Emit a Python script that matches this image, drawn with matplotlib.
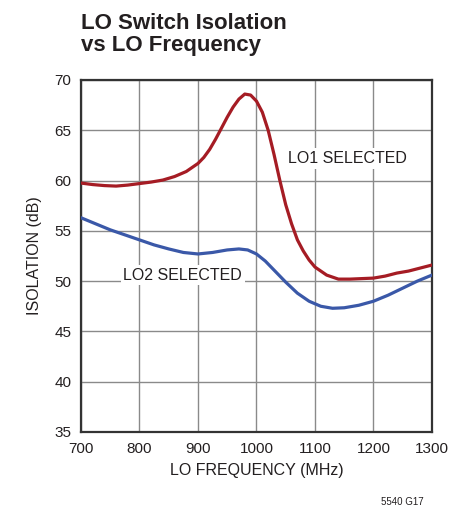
import matplotlib.pyplot as plt

# LO1 selected (red)
f1 = [700, 720, 740, 760, 780, 800, 820, 840, 860, 880, 900, 910, 920, 930, 940, 950, 960,
      970, 980, 990, 1000, 1010, 1020, 1030, 1040, 1050, 1060, 1070, 1080, 1090, 1100,
      1120, 1140, 1160, 1180, 1200, 1220, 1240, 1260, 1280, 1300]
lo1 = [59.75, 59.6, 59.5, 59.45, 59.55, 59.7, 59.85, 60.05, 60.4, 60.9, 61.7, 62.3, 63.1,
       64.1, 65.2, 66.3, 67.3, 68.1, 68.6, 68.5, 67.9, 66.8, 65.0, 62.6, 60.0, 57.6, 55.7,
       54.1, 53.0, 52.1, 51.4, 50.6, 50.2, 50.2, 50.25, 50.3, 50.5, 50.8, 51.0, 51.3, 51.6]

# LO2 selected (blue)
f2 = [700, 725, 750, 775, 800, 825, 850, 875, 900, 925, 950, 970, 985, 1000, 1015, 1030,
      1050, 1070, 1090, 1110, 1130, 1150, 1175, 1200, 1225, 1250, 1275, 1300]
lo2 = [56.3, 55.7, 55.1, 54.6, 54.1, 53.6, 53.2, 52.85, 52.7, 52.85, 53.1, 53.2, 53.1, 52.7,
       52.0, 51.1, 49.9, 48.8, 48.0, 47.5, 47.3, 47.35, 47.6, 48.0, 48.6, 49.3, 50.0, 50.6]

xticks = [700, 800, 900, 1000, 1100, 1200, 1300]
yticks = [35, 40, 45, 50, 55, 60, 65, 70]

plt.rcParams['font.family'] = ['Liberation Sans', 'DejaVu Sans']

fig = plt.figure(figsize=(4.49, 5.15), dpi=100)
ax = fig.add_axes([0.1804, 0.1612, 0.7816, 0.6835])

ax.plot(f1, lo1, color='#a51c24', lw=2.3, zorder=3, solid_joinstyle='round')
ax.plot(f2, lo2, color='#3a58a8', lw=2.3, zorder=3, solid_joinstyle='round')

ax.set_xlim(700, 1300)
ax.set_ylim(35, 70)
ax.set_xticks(xticks)
ax.set_yticks(yticks)
ax.grid(True, color='#8a8a8a', lw=1.0)
ax.tick_params(length=0, labelsize=11, pad=7, colors='#231f20')
for s in ax.spines.values():
    s.set_color('#333333')
    s.set_linewidth(1.6)

ax.set_xlabel('LO FREQUENCY (MHz)', fontsize=11.5, color='#231f20', labelpad=5)
ax.set_ylabel('ISOLATION (dB)', fontsize=11.5, color='#231f20', labelpad=9)

ax.text(1155, 62.2, 'LO1 SELECTED', fontsize=11.5, ha='center', va='center', color='#231f20',
        bbox=dict(facecolor='white', edgecolor='none', pad=2), zorder=4)
ax.text(874, 50.6, 'LO2 SELECTED', fontsize=11.5, ha='center', va='center', color='#231f20',
        bbox=dict(facecolor='white', edgecolor='none', pad=2), zorder=4)

fig.text(0.1804, 0.975, 'LO Switch Isolation\nvs LO Frequency', fontsize=16, fontweight='bold',
         ha='left', va='top', color='#231f20', linespacing=1.1)
fig.text(0.895, 0.015, '5540 G17', fontsize=7, ha='center', va='bottom', color='#231f20')

fig.savefig('out.png', dpi=100)
